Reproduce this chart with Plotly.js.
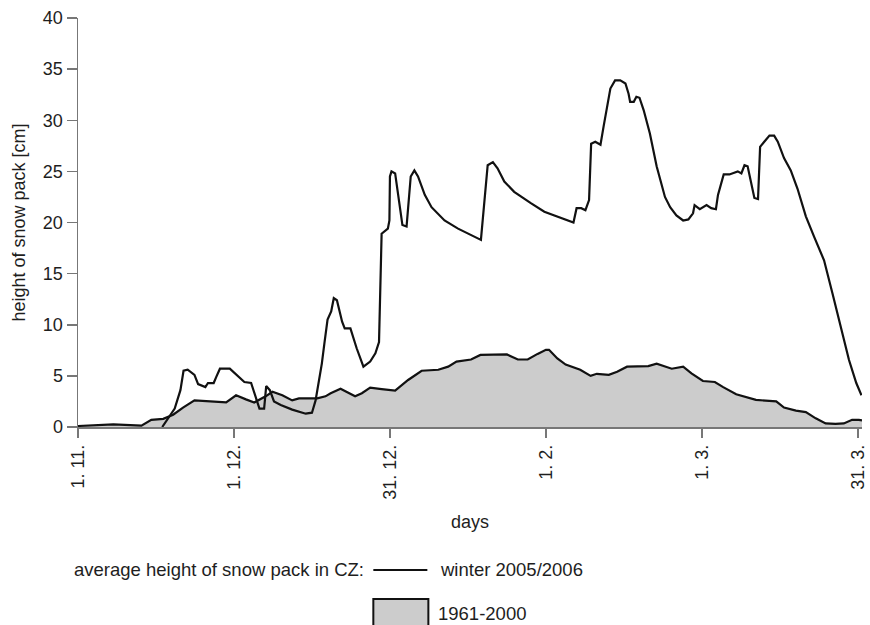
<!DOCTYPE html>
<html>
<head>
<meta charset="utf-8">
<script src="https://cdn.plot.ly/plotly-3.0.1.min.js"></script>
<style>
  html, body { margin: 0; padding: 0; background: #ffffff; }
  #chart { width: 870px; height: 625px; }
</style>
</head>
<body>
<div id="chart"></div>
<script>
// Day index counted from 1 November
const tickDays = [0, 30, 60, 90, 120, 150];
const tickLabels = ["1. 11.", "1. 12.", "31. 12.", "1. 2.", "1. 3.", "31. 3."];

// winter 2005/2006 – average height of snow pack in CZ [cm]
const winterDays = [16.2, 18.6, 19.7, 20.3, 21.1, 22.4, 23.1, 24.5, 25, 26.1, 26.6, 27.3, 29.2, 30.4, 32, 33.3, 34.2, 34.9, 35.8, 36.2, 36.9, 37.7, 39, 41.2, 43.8, 45, 45.7, 46.3, 46.9, 47.4, 48, 48.7, 49.2, 49.8, 50.8, 51.3, 52.4, 53.6, 54.9, 56.2, 57.2, 57.9, 58.4, 59.6, 59.9, 60, 60.3, 61, 61.6, 62.4, 63.2, 63.5, 64, 64.7, 65.4, 66.7, 68, 70.5, 73.1, 77.5, 78.8, 79.8, 80.7, 82, 83.9, 87.1, 89.7, 95.3, 95.9, 96.8, 97.6, 98.3, 98.7, 99.5, 100.5, 101.1, 101.8, 102.4, 103.3, 104.3, 105.3, 105.9, 106.2, 106.9, 107.4, 108, 108.8, 110, 111.3, 112.9, 113.9, 115.1, 116.4, 117.4, 118.3, 118.6, 119.6, 120.9, 121.8, 122.7, 123.1, 124.2, 125.3, 126, 126.9, 127.6, 128.2, 128.8, 129.5, 130.1, 130.8, 131.2, 132, 133, 133.9, 134.6, 135.8, 137.1, 138.4, 140, 141.6, 143.5, 145.1, 146.7, 148.3, 149.7, 150.7];
const winterSnow = [0, 1.8, 3.6, 5.5, 5.6, 5.1, 4.2, 3.9, 4.3, 4.3, 4.9, 5.7, 5.7, 5.1, 4.4, 4.3, 3.0, 1.8, 1.8, 4.0, 3.6, 2.5, 2.15, 1.7, 1.3, 1.4, 2.6, 4.3, 6.2, 8.2, 10.5, 11.3, 12.6, 12.4, 10.3, 9.65, 9.65, 7.7, 5.9, 6.4, 7.2, 8.3, 18.9, 19.4, 20.2, 24.5, 25.0, 24.8, 22.5, 19.75, 19.6, 21.5, 24.5, 25.1, 24.5, 22.7, 21.5, 20.2, 19.4, 18.3, 25.6, 25.9, 25.3, 24.0, 23.0, 21.9, 21.05, 20.0, 21.4, 21.4, 21.2, 22.2, 27.7, 27.9, 27.6, 29.4, 31.3, 33.1, 33.9, 33.9, 33.6, 32.6, 31.8, 31.8, 32.3, 32.2, 31.0, 28.7, 25.5, 22.5, 21.5, 20.7, 20.2, 20.3, 20.9, 21.7, 21.3, 21.7, 21.4, 21.3, 22.7, 24.7, 24.7, 24.8, 25.0, 24.8, 25.6, 25.5, 24.0, 22.4, 22.3, 27.4, 27.9, 28.5, 28.5, 27.9, 26.3, 25.1, 23.3, 20.6, 18.6, 16.3, 13.1, 9.8, 6.55, 4.3, 3.1];

// 1961-2000 – average height of snow pack in CZ [cm]
const normalDays = [0, 6.8, 12.2, 14.1, 16.4, 18.3, 20.2, 22.4, 28.5, 30.4, 32.3, 33.9, 36.1, 37.4, 39.3, 41.2, 42.5, 46, 47.6, 48.6, 50.5, 51.7, 53.3, 54.6, 56.2, 58.4, 61, 63.5, 66.1, 69.3, 71.2, 72.8, 75.6, 77.4, 82.5, 84.6, 86.5, 88.4, 90, 90.6, 92.2, 93.8, 96.6, 98.6, 99.8, 102.1, 103.7, 105.6, 109.7, 111.3, 114.2, 116.4, 118, 120.2, 122.5, 124.1, 126.6, 130.4, 133, 134.3, 135.8, 138.1, 140, 141.9, 143.8, 145.7, 147.3, 148.9, 150.2, 150.8];
const normalSnow = [0.1, 0.26, 0.13, 0.7, 0.8, 1.2, 1.9, 2.6, 2.4, 3.1, 2.7, 2.4, 3.0, 3.45, 3.1, 2.6, 2.8, 2.8, 3.0, 3.3, 3.75, 3.4, 3.0, 3.3, 3.85, 3.7, 3.55, 4.6, 5.5, 5.6, 5.9, 6.4, 6.6, 7.05, 7.1, 6.6, 6.6, 7.15, 7.55, 7.55, 6.7, 6.1, 5.6, 5.0, 5.2, 5.1, 5.4, 5.9, 5.95, 6.2, 5.7, 5.9, 5.25, 4.5, 4.4, 3.9, 3.2, 2.65, 2.55, 2.5, 1.9, 1.6, 1.45, 0.85, 0.35, 0.3, 0.35, 0.7, 0.7, 0.65];

const yTicks = [0, 5, 10, 15, 20, 25, 30, 35, 40];

const FONT = "'Liberation Sans', Arial, sans-serif";
const TXT = "#1e1e1e";
const AX = "#777777";

const traces = [
  {
    x: normalDays, y: normalSnow, type: "scatter", mode: "lines",
    fill: "tozeroy", fillcolor: "#cccccc",
    line: { color: "#111111", width: 2.2 },
    name: "1961-2000", showlegend: false, hoverinfo: "x+y"
  },
  {
    x: winterDays, y: winterSnow, type: "scatter", mode: "lines",
    line: { color: "#111111", width: 2.2 },
    name: "winter 2005/2006", showlegend: false, hoverinfo: "x+y"
  }
];

const layout = {
  width: 870, height: 625,
  margin: { l: 78, r: 8, t: 18, b: 198, pad: 0 },
  paper_bgcolor: "#ffffff", plot_bgcolor: "#ffffff",
  font: { family: FONT, size: 18, color: TXT },
  showlegend: false,
  xaxis: {
    range: [0, 150.8], showgrid: false, zeroline: false,
    showline: true, linecolor: AX, linewidth: 1.5,
    ticks: "outside", ticklen: 9, tickwidth: 1.5, tickcolor: AX,
    tickmode: "array", tickvals: tickDays, ticktext: tickLabels,
    tickangle: -90, ticklabeloverflow: "allow",
    tickfont: { family: FONT, size: 18, color: TXT },
    title: { text: "days", font: { family: FONT, size: 18, color: TXT }, standoff: 16 },
    automargin: false, fixedrange: true
  },
  yaxis: {
    range: [0, 40], showgrid: false, zeroline: false,
    showline: true, linecolor: AX, linewidth: 1.5,
    ticks: "outside", ticklen: 10, tickwidth: 1.5, tickcolor: AX,
    tickmode: "array", tickvals: yTicks,
    tickfont: { family: FONT, size: 18, color: TXT },
    title: { text: "height of snow pack [cm]", font: { family: FONT, size: 18, color: TXT }, standoff: 12 },
    automargin: false, fixedrange: true
  },
  shapes: [
    { type: "line", xref: "paper", yref: "paper", x0: 0.3767, x1: 0.4456, y0: -0.3496, y1: -0.3496,
      line: { color: "#111111", width: 2.2 } },
    { type: "rect", xref: "paper", yref: "paper", x0: 0.3767, x1: 0.4469, y0: -0.4205, y1: -0.5,
      fillcolor: "#cccccc", line: { color: "#111111", width: 2 } }
  ],
  annotations: [
    { xref: "paper", yref: "paper", x: -0.0077, y: -0.3496, xanchor: "left", yanchor: "middle",
      text: "average height of snow pack in CZ:", showarrow: false, font: { family: FONT, size: 18.5, color: TXT } },
    { xref: "paper", yref: "paper", x: 0.4597, y: -0.3496, xanchor: "left", yanchor: "middle",
      text: "winter 2005/2006", showarrow: false, font: { family: FONT, size: 18.5, color: TXT } },
    { xref: "paper", yref: "paper", x: 0.4571, y: -0.4548, xanchor: "left", yanchor: "middle",
      text: "1961-2000", showarrow: false, font: { family: FONT, size: 18.5, color: TXT } }
  ]
};

Plotly.newPlot("chart", traces, layout, { displayModeBar: false, staticPlot: true });
</script>
</body>
</html>
